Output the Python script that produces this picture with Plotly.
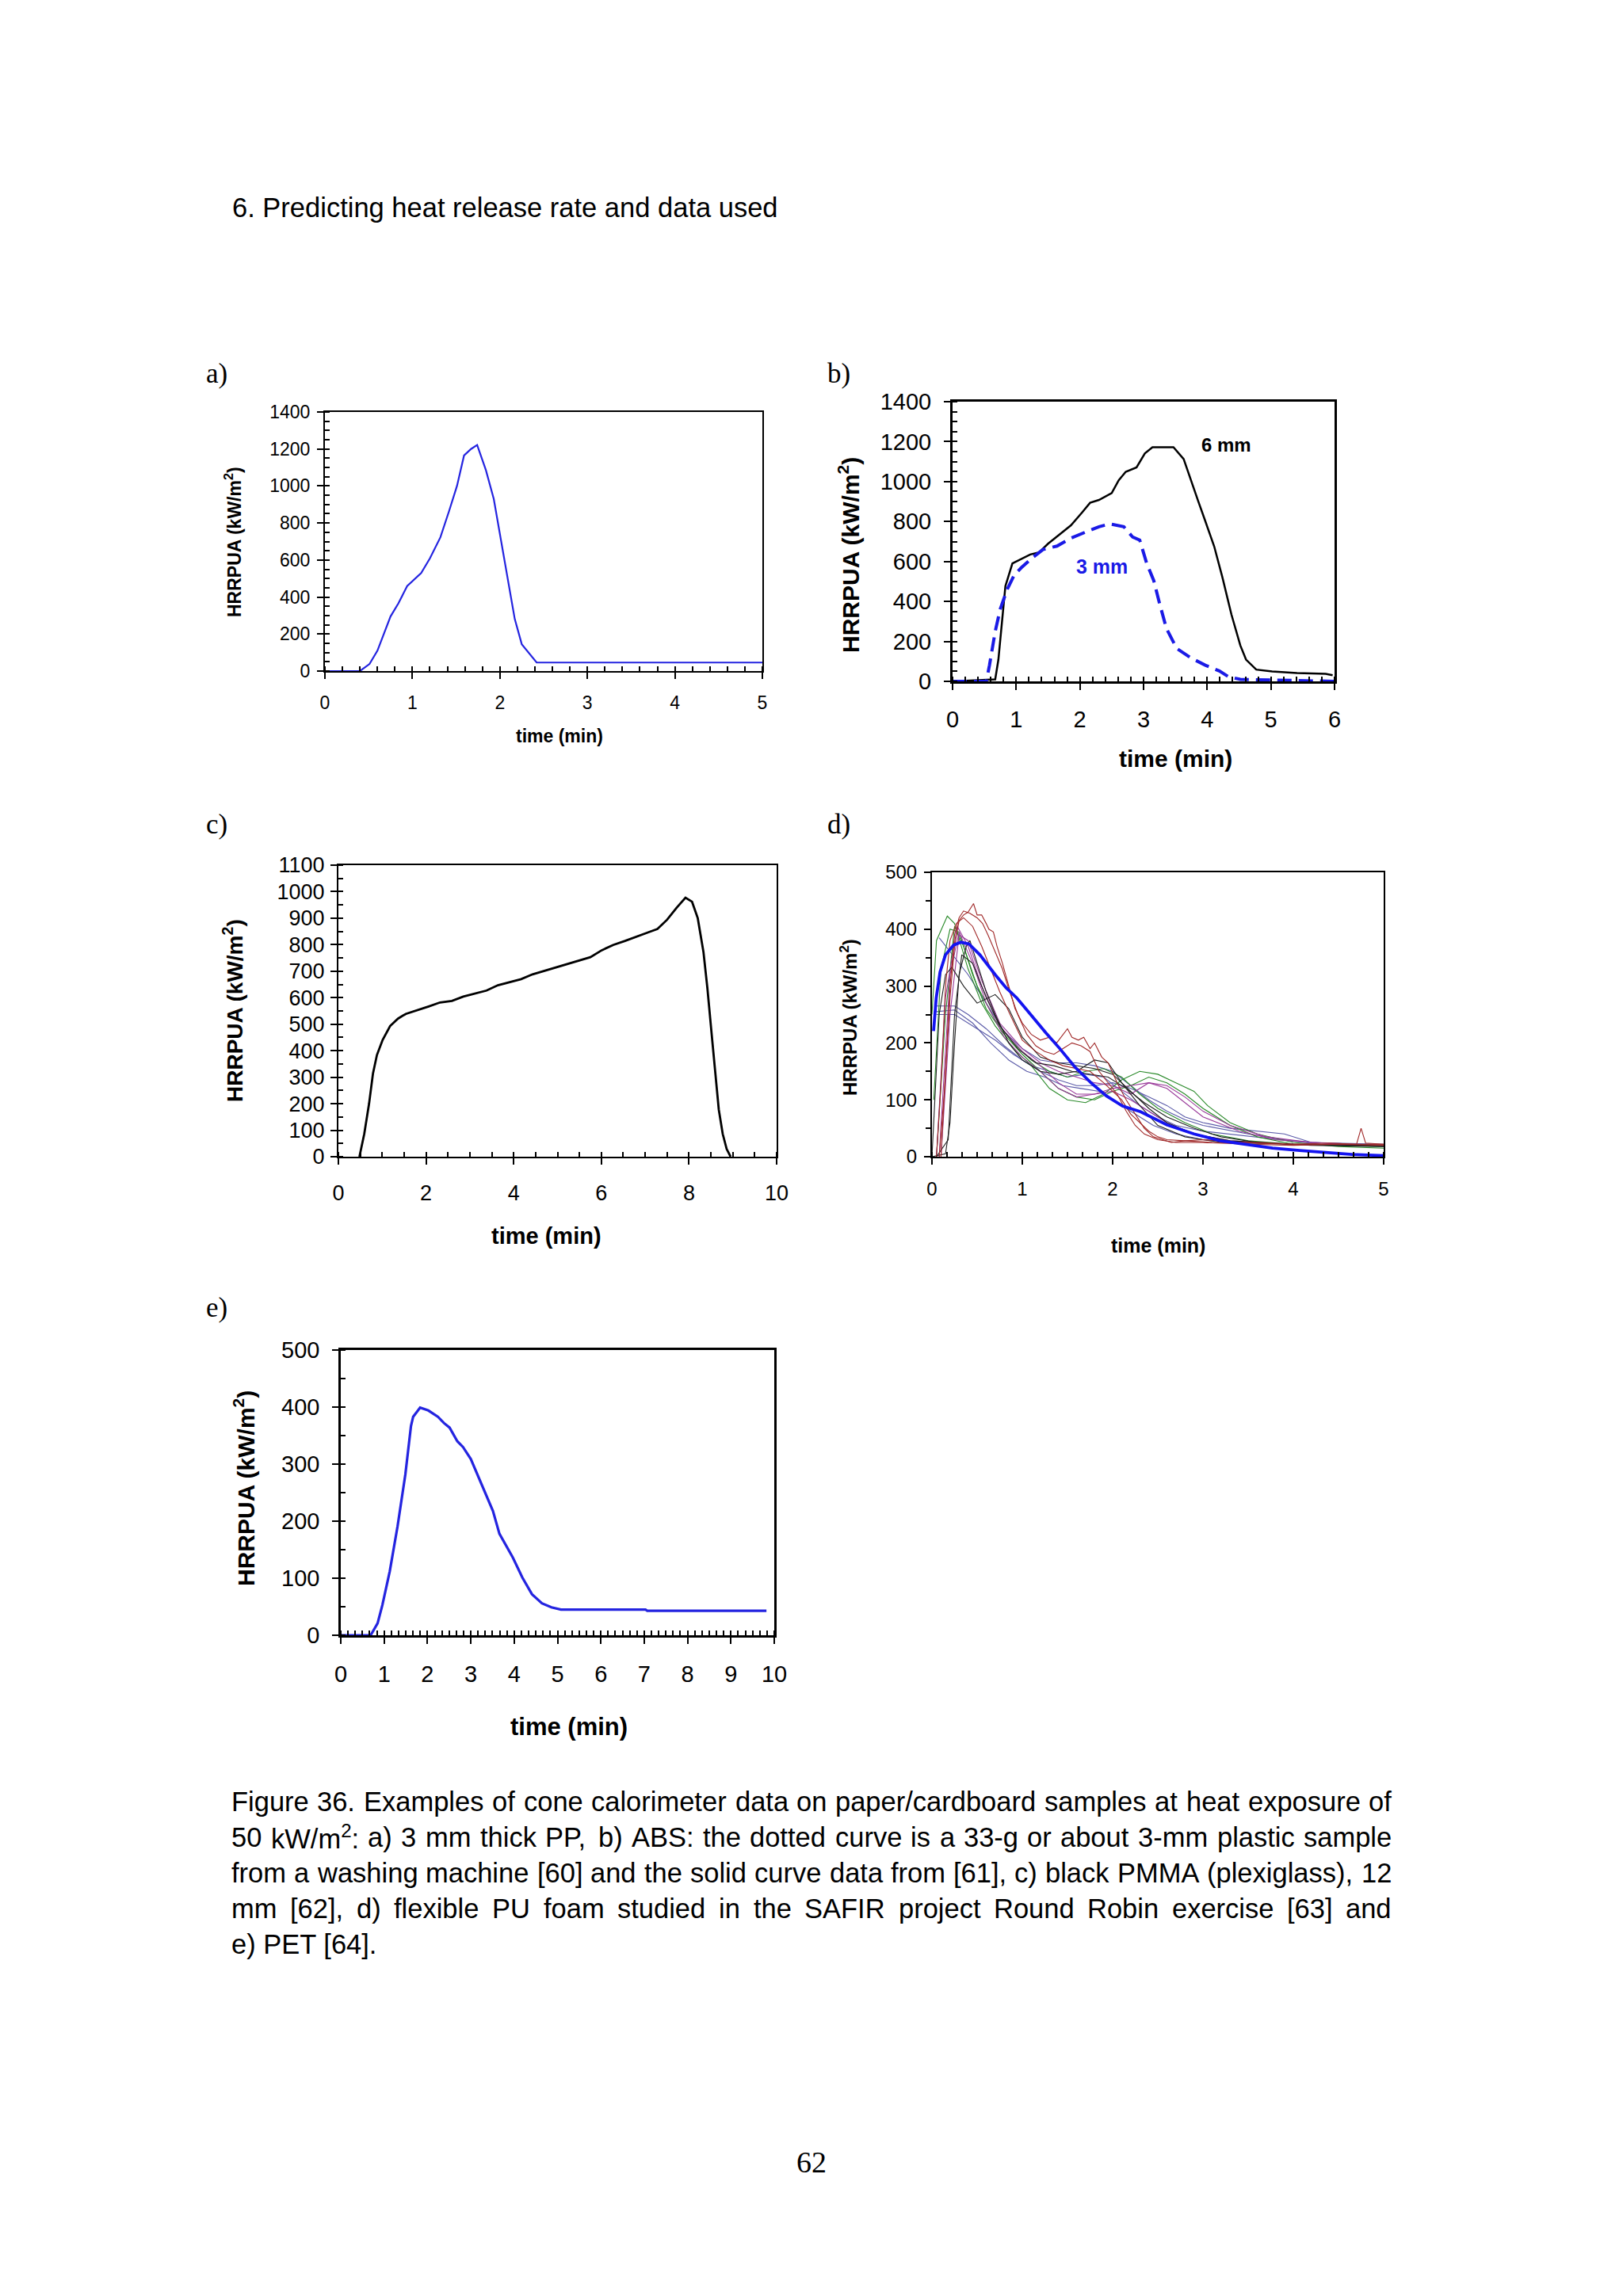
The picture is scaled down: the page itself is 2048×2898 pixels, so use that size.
import plotly.graph_objects as go

# ---------------- DATA ----------------
# a) 3 mm PP
a_t = [0, 0.40, 0.51, 0.60, 0.75, 0.84, 0.94, 1.10, 1.20, 1.32, 1.42, 1.51, 1.59, 1.67, 1.74,
       1.84, 1.93, 2.01, 2.10, 2.17, 2.25, 2.42, 5.0]
a_v = [0, 0, 38, 110, 295, 366, 459, 530, 609, 723, 866, 1001, 1165, 1200, 1222,
       1086, 930, 716, 459, 281, 145, 46, 46]

# b) ABS 6 mm (solid) and 3 mm (dashed)
b6_t = [0, 0.67, 0.72, 0.78, 0.83, 0.94, 1.08, 1.22, 1.36, 1.50, 1.69, 1.86, 2.03, 2.16, 2.30,
        2.50, 2.61, 2.72, 2.89, 3.02, 3.14, 3.47, 3.63, 3.72, 3.86, 3.97, 4.11, 4.24, 4.38,
        4.52, 4.61, 4.77, 5.02, 5.41, 5.86, 5.97]
b6_v = [0, 10, 109, 321, 477, 590, 611, 635, 646, 689, 738, 781, 844, 894, 908,
        943, 1007, 1049, 1071, 1141, 1172, 1172, 1113, 1028, 901, 802, 675, 519, 335,
        180, 109, 59, 50, 42, 38, 31]
b3_t = [0, 0.53, 0.58, 0.67, 0.75, 0.86, 0.97, 1.08, 1.25, 1.42, 1.64, 1.86, 2.08, 2.30, 2.47,
        2.69, 2.83, 2.94, 3.05, 3.16, 3.25, 3.36, 3.52, 3.75, 3.97, 4.19, 4.33, 4.52, 6.0]
b3_v = [0, 0, 81, 250, 363, 462, 533, 569, 618, 660, 677, 717, 746, 774, 788,
        774, 722, 707, 590, 505, 392, 264, 165, 116, 81, 52, 24, 10, 0]

# c) black PMMA 12 mm
c_t = [0.48, 0.59, 0.70, 0.79, 0.88, 1.01, 1.18, 1.36, 1.54, 1.80, 2.06, 2.32, 2.59, 2.85, 3.11,
       3.38, 3.64, 3.90, 4.17, 4.43, 4.69, 4.96, 5.22, 5.48, 5.75, 6.01, 6.27, 6.54, 6.80, 7.06,
       7.28, 7.50, 7.72, 7.92, 8.07, 8.20, 8.33, 8.42, 8.51, 8.60, 8.68, 8.77, 8.86, 8.95]
c_v = [0, 86, 200, 315, 384, 441, 493, 521, 539, 552, 567, 582, 588, 604, 616,
       627, 647, 659, 670, 688, 701, 713, 728, 739, 753, 779, 799, 814, 831, 846,
       859, 894, 940, 977, 962, 900, 773, 636, 476, 315, 178, 86, 29, 0]

# d) flexible PU foam, SAFIR round robin (individual tests + mean)
d_red1_t = [0.08, 0.14, 0.2, 0.25, 0.3, 0.35, 0.4, 0.44, 0.46, 0.5, 0.55, 0.6, 0.63, 0.68, 0.72,
            0.78, 0.85, 0.92, 1.0, 1.1, 1.2, 1.3, 1.38, 1.45, 1.5, 1.55, 1.62, 1.68, 1.75, 1.8,
            1.88, 1.95, 2.05, 2.15, 2.25, 2.35, 2.45, 2.55, 2.65, 2.8, 3.0, 3.3, 3.6, 4.0, 4.4,
            4.7, 4.75, 4.8, 5.0]
d_red1_v = [0, 120, 280, 370, 415, 425, 430, 440, 445, 425, 425, 410, 400, 395, 370,
            340, 300, 260, 235, 215, 205, 210, 200, 215, 225, 210, 205, 210, 190, 200,
            175, 165, 130, 100, 75, 50, 35, 30, 25, 28, 30, 26, 25, 22, 24,
            22, 50, 24, 22]
d_red2_t = [0.1, 0.15, 0.2, 0.25, 0.3, 0.35, 0.42, 0.5, 0.56, 0.62, 0.7, 0.78, 0.86, 0.95, 1.05,
            1.15, 1.25, 1.35, 1.45, 1.55, 1.65, 1.75, 1.85, 1.95, 2.05, 2.15, 2.25, 2.35, 2.5,
            2.7, 3.0, 3.5, 4.0, 4.5, 5.0]
d_red2_v = [0, 150, 300, 390, 420, 432, 428, 420, 410, 390, 360, 330, 290, 250, 215,
            195, 185, 180, 190, 200, 195, 185, 150, 130, 110, 80, 55, 40, 30,
            25, 25, 22, 20, 22, 20]
d_red3_t = [0.05, 0.1, 0.15, 0.2, 0.27, 0.35, 0.45, 0.55, 0.65, 0.75, 0.85, 1.0, 1.15, 1.3, 1.45,
            1.6, 1.75, 1.9, 2.0, 2.1, 2.2, 2.3, 2.4, 2.5, 2.6, 2.8, 3.1, 3.5, 4.0, 4.5, 5.0]
d_red3_v = [0, 130, 300, 380, 410, 420, 405, 370, 330, 290, 255, 205, 185, 170, 160,
            155, 150, 130, 115, 100, 75, 60, 45, 35, 30, 28, 25, 24, 22, 22, 22]
d_green1_t = [0.0, 0.05, 0.17, 0.25, 0.4, 0.55, 0.7, 0.9, 1.1, 1.3, 1.5, 1.7, 1.9, 2.1, 2.3,
              2.5, 2.7, 2.9, 3.05, 3.3, 3.6, 4.0, 4.5, 5.0]
d_green1_v = [250, 380, 423, 410, 330, 270, 230, 190, 160, 120, 100, 95, 110, 135, 150,
              145, 130, 115, 90, 60, 40, 25, 18, 15]
d_green2_t = [0.02, 0.1, 0.2, 0.3, 0.45, 0.6, 0.8, 1.0, 1.2, 1.4, 1.6, 1.8, 2.0, 2.2, 2.4,
              2.6, 2.8, 3.0, 3.3, 3.6, 4.0, 4.5, 5.0]
d_green2_v = [100, 330, 400, 395, 320, 260, 215, 180, 150, 120, 105, 100, 115, 125, 140,
              130, 110, 85, 55, 35, 22, 20, 18]
d_green3_t = [0.05, 0.15, 0.25, 0.35, 0.5, 0.7, 0.9, 1.1, 1.3, 1.5, 1.7, 1.9, 2.1, 2.3, 2.5,
              2.8, 3.1, 3.5, 4.0, 5.0]
d_green3_v = [0, 250, 405, 370, 300, 240, 200, 170, 150, 140, 150, 155, 140, 110, 85,
              60, 40, 28, 22, 20]
d_purple1_t = [0.05, 0.15, 0.28, 0.4, 0.55, 0.75, 1.0, 1.2, 1.4, 1.6, 1.8, 2.0, 2.2, 2.4, 2.6,
               2.8, 3.0, 3.3, 3.7, 4.2, 5.0]
d_purple1_v = [0, 280, 405, 370, 300, 230, 185, 160, 130, 110, 110, 120, 125, 130, 125,
               105, 80, 55, 35, 25, 20]
d_purple2_t = [0.08, 0.2, 0.3, 0.45, 0.6, 0.8, 1.0, 1.2, 1.4, 1.6, 1.8, 2.0, 2.2, 2.4, 2.6,
               2.9, 3.3, 4.0, 5.0]
d_purple2_v = [0, 320, 395, 340, 270, 210, 175, 150, 120, 105, 110, 115, 100, 80, 60,
               40, 28, 22, 20]
d_purple3_t = [0.1, 0.2, 0.3, 0.4, 0.55, 0.75, 1.0, 1.2, 1.4, 1.6, 1.8, 2.0, 2.2, 2.4, 2.6,
               2.8, 3.0, 3.4, 3.8, 4.5, 5.0]
d_purple3_v = [0, 250, 390, 380, 310, 235, 190, 165, 150, 140, 130, 125, 110, 130, 120,
               95, 70, 45, 30, 22, 20]
d_black1_t = [0, 0.15, 0.2, 0.25, 0.3, 0.38, 0.42, 0.5, 0.6, 0.7, 0.85, 1.0, 1.2, 1.4, 1.6,
              1.8, 1.95, 2.1, 2.3, 2.5, 2.8, 3.2, 4.0, 5.0]
d_black1_v = [0, 5, 60, 200, 320, 370, 380, 340, 290, 250, 200, 170, 150, 145, 150,
              170, 165, 130, 90, 55, 35, 25, 22, 20]
d_black2_t = [0.05, 0.18, 0.25, 0.33, 0.45, 0.6, 0.75, 0.95, 1.15, 1.35, 1.55, 1.75, 1.95, 2.15,
              2.35, 2.6, 2.9, 3.2, 3.6, 4.2, 5.0]
d_black2_v = [0, 30, 250, 355, 340, 280, 230, 190, 165, 160, 150, 145, 140, 120,
              95, 70, 50, 35, 25, 20, 18]
d_black3_t = [0.0, 0.08, 0.15, 0.22, 0.35, 0.5, 0.7, 0.85, 1.0, 1.2, 1.4, 1.6, 1.8, 2.0, 2.2,
              2.4, 2.6, 2.9, 3.3, 4.0, 5.0]
d_black3_v = [0, 250, 320, 333, 300, 270, 285, 260, 210, 175, 165, 160, 155, 145, 115,
              85, 60, 40, 28, 22, 20]
d_slate1_t = [0.08, 0.2, 0.4, 0.6, 0.8, 1.0, 1.2, 1.4, 1.6, 1.8, 2.0, 2.2, 2.4, 2.6, 2.8,
              3.0, 3.5, 3.9, 4.2, 5.0]
d_slate1_v = [385, 360, 320, 270, 220, 190, 170, 165, 165, 160, 150, 125, 100, 80, 65,
              55, 40, 30, 25, 22]
d_slate2_t = [0.05, 0.25, 0.4, 0.6, 0.8, 1.0, 1.2, 1.4, 1.6, 1.8, 2.0, 2.2, 2.4, 2.6, 2.8,
              3.0, 3.3, 3.6, 3.9, 4.2, 5.0]
d_slate2_v = [265, 265, 250, 225, 195, 170, 150, 135, 125, 125, 130, 120, 105, 90, 70,
              60, 50, 45, 40, 25, 20]
d_slate3_t = [0.05, 0.25, 0.45, 0.65, 0.85, 1.05, 1.25, 1.45, 1.65, 1.85, 2.05, 2.25, 2.45, 2.7,
              3.0, 3.5, 4.0, 5.0]
d_slate3_v = [255, 258, 235, 200, 170, 150, 140, 125, 120, 115, 95, 75, 55, 40,
              30, 25, 22, 20]
d_slate4_t = [0.05, 0.25, 0.5, 0.7, 0.9, 1.1, 1.3, 1.5, 1.7, 1.9, 2.1, 2.3, 2.5, 2.7, 3.0,
              3.4, 3.9, 4.3, 5.0]
d_slate4_v = [250, 250, 225, 205, 180, 160, 150, 140, 145, 140, 115, 90, 70, 55, 45,
              38, 30, 22, 18]
d_mean_t = [0.018, 0.047, 0.09, 0.15, 0.24, 0.32, 0.41, 0.53, 0.70, 0.82, 0.94, 1.11, 1.26, 1.41,
            1.58, 1.76, 1.93, 2.11, 2.31, 2.60, 2.90, 3.19, 3.48, 3.77, 4.07, 4.36, 4.65, 5.0]
d_mean_v = [221, 279, 325, 355, 372, 377, 374, 355, 320, 297, 279, 246, 218, 191,
            158, 130, 107, 89, 79, 56, 40, 28, 21, 15, 11, 7.5, 4, 2]

# e) PET
e_t = [0, 0.69, 0.85, 0.96, 1.13, 1.31, 1.49, 1.62, 1.67, 1.83, 2.02, 2.24, 2.38, 2.51, 2.69,
       2.82, 3.00, 3.17, 3.35, 3.51, 3.66, 3.79, 3.97, 4.19, 4.41, 4.64, 4.86, 5.08, 7.03, 7.07, 9.82]
e_v = [0, 0, 21, 53, 112, 191, 282, 367, 383, 399, 394, 383, 372, 364, 340,
       330, 309, 279, 245, 218, 178, 160, 136, 101, 72, 56, 49, 45, 45, 43, 43]

# text
header_text = "6. Predicting heat release rate and data used"
caption_lines = [
    "Figure 36. Examples of cone calorimeter data on paper/cardboard samples at heat exposure of",
    "50 kW/m<sup>2</sup>: a) 3 mm thick PP, b) ABS: the dotted curve is a 33-g or about 3-mm plastic sample",
    "from a washing machine [60] and the solid curve data from [61], c) black PMMA (plexiglass), 12",
    "mm [62], d) flexible PU foam studied in the SAFIR project Round Robin exercise [63] and",
    "e) PET [64].",
]
page_number = "62"
y_title = "HRRPUA (kW/m<sup>2</sup>)"
x_title = "time (min)"

# ---------------- LAYOUT HELPERS ----------------
# page body keeps an 8px default margin, so the figure is 16px smaller than the window
OFF = 8
W, H = 2048 - 2 * OFF, 2898 - 2 * OFF
SANS = "Liberation Sans, Arial, sans-serif"
SERIF = "Liberation Serif, Times New Roman, serif"


def px(x):
    return (x - OFF) / W


def py(y):
    return 1 - (y - OFF) / H


fig = go.Figure()

panels = {
    # name: (L, T, R, B, xmax, xdtick, xminor, ymax, ydtick, yminor, tickfont, xstand, ystand, linew, yminor_ticks)
    "a": (410, 520, 962, 847, 5, 1, 0.2, 1400, 200, 50, 23, 10, 4, 2, "inside"),
    "b": (1202, 507, 1684, 860, 6, 1, 0.2, 1400, 200, 50, 29, 12, 10, 3, "inside"),
    "c": (427, 1092, 980, 1460, 10, 2, 0.5, 1100, 100, 50, 27, 13, 2, 2, "inside"),
    "d": (1176, 1101, 1746, 1460, 5, 1, 1 / 6, 500, 100, 50, 24, 10, 4, 2, "outside"),
    "e": (430, 1704, 977, 2064, 10, 1, 1 / 6, 500, 100, 50, 29, 13, 10, 2.5, "inside"),
}

axis_ids = {}
for i, (name, p) in enumerate(panels.items()):
    (L, T, R, B, xmax, xd, xm, ymax, yd, ym, tf, xs, ys, lw, ymt) = p
    sfx = "" if i == 0 else str(i + 1)
    axis_ids[name] = ("x" + sfx, "y" + sfx)
    common = dict(
        showline=True, linewidth=lw, linecolor="black", mirror=True,
        showgrid=False, zeroline=False, automargin=False,
        ticks="outside", ticklen=8, tickwidth=2, tickcolor="black",
        tickfont=dict(family=SANS, size=tf, color="black"),
        tick0=0,
    )
    fig.layout["xaxis" + sfx] = dict(
        common, domain=[px(L), px(R)], range=[0, xmax], dtick=xd,
        anchor="y" + sfx, ticklabelstandoff=xs,
        minor=dict(dtick=xm, tick0=0, ticks="inside", ticklen=6, tickwidth=1.5,
                   tickcolor="black", showgrid=False),
    )
    fig.layout["yaxis" + sfx] = dict(
        common, domain=[py(B), py(T)], range=[0, ymax], dtick=yd,
        anchor="x" + sfx, ticklabelstandoff=ys,
        minor=dict(dtick=ym, tick0=0, ticks=ymt, ticklen=6, tickwidth=1.5,
                   tickcolor="black", showgrid=False),
    )


def add_line(panel, t, v, color, width, dash=None):
    xa, ya = axis_ids[panel]
    ln = dict(color=color, width=width)
    if dash:
        ln["dash"] = dash
    fig.add_trace(go.Scatter(x=t, y=v, mode="lines", line=ln, xaxis=xa, yaxis=ya,
                             showlegend=False, hoverinfo="skip"))


BLUE = "#2424e0"
add_line("a", a_t, a_v, BLUE, 2.2)
add_line("b", b6_t, b6_v, "black", 2.5)
add_line("b", b3_t, b3_v, "#1a1ae6", 4, dash="18px,9px")
add_line("c", c_t, c_v, "black", 2.8)

RED, GREEN, PURPLE, BLACK, SLATE = "#a02828", "#2a8a2a", "#9a3a9a", "#202020", "#5a5aa8"
d_series = [
    (d_slate1_t, d_slate1_v, SLATE), (d_slate2_t, d_slate2_v, SLATE),
    (d_slate3_t, d_slate3_v, SLATE), (d_slate4_t, d_slate4_v, SLATE),
    (d_green1_t, d_green1_v, GREEN), (d_green2_t, d_green2_v, GREEN), (d_green3_t, d_green3_v, GREEN),
    (d_purple1_t, d_purple1_v, PURPLE), (d_purple2_t, d_purple2_v, PURPLE),
    (d_purple3_t, d_purple3_v, PURPLE),
    (d_black1_t, d_black1_v, BLACK), (d_black2_t, d_black2_v, BLACK), (d_black3_t, d_black3_v, BLACK),
    (d_red1_t, d_red1_v, RED), (d_red2_t, d_red2_v, RED), (d_red3_t, d_red3_v, RED),
]
for t, v, col in d_series:
    add_line("d", t, v, col, 1.1)
add_line("d", d_mean_t, d_mean_v, "#1414f0", 3.8)
add_line("e", e_t, e_v, BLUE, 3.2)

# ---------------- ANNOTATIONS ----------------
ann = []


def text(x, y, s, size, family=SANS, color="black", bold=False, xanchor="left",
         yanchor="middle", angle=0):
    ann.append(dict(
        x=px(x), y=py(y), xref="paper", yref="paper", text=s, showarrow=False,
        xanchor=xanchor, yanchor=yanchor, textangle=angle,
        font=dict(family=family, size=size, color=color, weight="bold" if bold else "normal"),
    ))


# panel labels
for lab, (x, y) in {"a)": (258, 472), "b)": (1042, 471), "c)": (258, 1041),
                    "d)": (1042, 1041), "e)": (258, 1650)}.items():
    text(x, y, lab, 35, family=SERIF)

# axis titles (center positions, size)
titles = {
    "a": ((294, 684), 23, (706, 929), 23),
    "b": ((1071, 701), 30, (1483, 957), 30),
    "c": ((294, 1276), 28, (689, 1560), 29),
    "d": ((1071, 1284), 24, (1461, 1572), 25),
    "e": ((308, 1879), 30, (718, 2179), 31),
}
for name, ((yx, yy), ys_, (xx, xy), xs_) in titles.items():
    text(yx, yy, y_title, ys_, bold=True, xanchor="center", angle=-90)
    text(xx, xy, x_title, xs_, bold=True, xanchor="center")

# in-plot labels for panel b
text(1514, 561, "6 mm", 24, bold=True)
text(1356, 715, "3 mm", 25, bold=True, color="#1a1ae6")

# header and page number
HEAD_SIZE = 34.5
text(291, 262, header_text, HEAD_SIZE)
text(1024, 2729, page_number, 38, family=SERIF, xanchor="center")

# caption, justified
AW = {" ": 278, "(": 333, ")": 333, ",": 278, "-": 333, ".": 278, "/": 278, ":": 278,
      "[": 278, "]": 278}
for d in "0123456789":
    AW[d] = 556
AW.update(dict(A=667, B=667, C=722, D=722, E=667, F=611, G=778, H=722, I=278, J=500, K=667,
               L=556, M=833, N=722, O=778, P=667, Q=778, R=722, S=667, T=611, U=722, V=667,
               W=944, X=667, Y=667, Z=611))
AW.update(dict(a=556, b=556, c=500, d=556, e=556, f=278, g=556, h=556, i=222, j=222, k=500,
               l=222, m=833, n=556, o=556, p=556, q=556, r=333, s=500, t=278, u=556, v=500,
               w=722, x=500, y=500, z=500))


def word_width(wd, size):
    total = 0.0
    sup = False
    i = 0
    while i < len(wd):
        if wd.startswith("<sup>", i):
            sup = True
            i += 5
            continue
        if wd.startswith("</sup>", i):
            sup = False
            i += 6
            continue
        total += AW.get(wd[i], 556) / 1000 * size * (0.7 if sup else 1.0)
        i += 1
    return total


CAP_SIZE = 34.5
CAP_LEFT, CAP_RIGHT = 292, 1756
CAP_INSET = 2
cap_baselines = [2286, 2331, 2376, 2421, 2466]
for li, line in enumerate(caption_lines):
    ymid = cap_baselines[li] - 0.36 * CAP_SIZE
    words = line.split(" ")
    if li < len(caption_lines) - 1:
        widths = [word_width(w, CAP_SIZE) for w in words]
        gap = (CAP_RIGHT - CAP_LEFT - sum(widths)) / (len(words) - 1)
        x = CAP_LEFT
        for w, ww in zip(words, widths):
            text(x - CAP_INSET, ymid, w, CAP_SIZE)
            x += ww + gap
    else:
        text(CAP_LEFT - CAP_INSET, ymid, line, CAP_SIZE)

fig.update_layout(
    width=W, height=H, margin=dict(l=0, r=0, t=0, b=0),
    paper_bgcolor="white", plot_bgcolor="white",
    showlegend=False, annotations=ann,
)

fig.write_html("out.html", config={"displayModeBar": False})
